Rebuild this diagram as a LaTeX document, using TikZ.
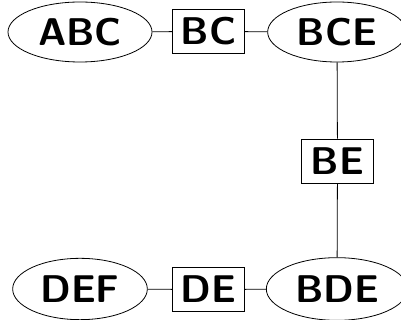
\documentclass[tikz,border=0pt]{standalone}
\usetikzlibrary{shapes.geometric}
\begin{document}
\begin{tikzpicture}[x=0.75pt,y=-0.75pt,
  every node/.style={font=\sffamily\bfseries\fontsize{29}{29}\selectfont, inner sep=0pt},
  clique/.style={ellipse, draw, line width=0.6pt, minimum width=108pt, minimum height=45pt},
  sepbox/.style={rectangle, draw, line width=0.6pt, minimum width=54pt, minimum height=33pt},
  link/.style={line width=0.6pt}]
  \useasboundingbox (0,0) rectangle (401,320);
  \clip (0,0) rectangle (401,320);
  % cliques
  \node[clique] (abc) at (80,32) {ABC};
  \node[clique, minimum width=104pt] (bce) at (337,32) {BCE};
  \node[clique, minimum width=101pt, minimum height=46pt] (def) at (80,289) {DEF};
  \node[clique, minimum width=106pt, minimum height=47pt] (bde) at (337,289) {BDE};
  % separators
  \node[sepbox] (bc) at (208.5,31.5) {BC};
  \node[sepbox] (be) at (337.5,161) {BE};
  \node[sepbox] (de) at (208.5,289.5) {DE};
  % edges
  \draw[link] (abc) -- (bc);
  \draw[link] (bc) -- (bce);
  \draw[link] (bce) -- (be);
  \draw[link] (be) -- (bde);
  \draw[link] (bde) -- (de);
  \draw[link] (de) -- (def);
\end{tikzpicture}
\end{document}
